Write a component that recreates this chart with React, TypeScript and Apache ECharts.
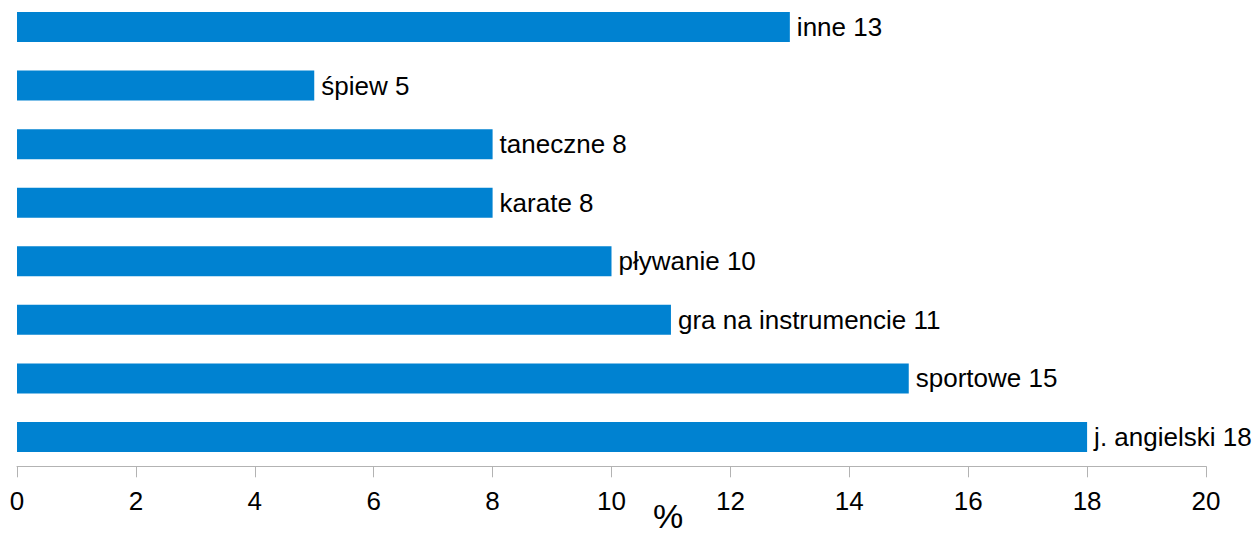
import React, { useEffect, useRef } from "react";
import * as echarts from "echarts";

const categories = [
  "j. angielski",
  "sportowe",
  "gra na instrumencie",
  "pływanie",
  "karate",
  "taneczne",
  "śpiew",
  "inne",
];
const values = [18, 15, 11, 10, 8, 8, 5, 13];
const axisMin = 0;
const axisMax = 20;
const axisInterval = 2;
const axisName = "%";

export default function App() {
  const ref = useRef<HTMLDivElement>(null);
  useEffect(() => {
    if (!ref.current) return;
    const chart = echarts.init(ref.current, undefined, { renderer: "svg" });
    const font = "'Liberation Sans', Arial, sans-serif";
    chart.setOption({
      animation: false,
      backgroundColor: "#ffffff",
      grid: {
        left: 17,
        right: 51,
        top: -2.3,
        bottom: 67.7,
        containLabel: false,
        outerBoundsMode: "none",
      },
      graphic: [
        {
          type: "text",
          left: 653,
          top: 499,
          style: {
            text: axisName,
            fontSize: 34,
            lineHeight: 34,
            fontFamily: font,
            fill: "#000000",
          },
        },
      ],
      xAxis: {
        type: "value",
        min: axisMin,
        max: axisMax,
        interval: axisInterval,
        axisLine: { show: true, lineStyle: { color: "#b3b3b3", width: 1 } },
        axisTick: { show: true, length: 11, lineStyle: { color: "#b3b3b3", width: 1 } },
        axisLabel: { fontSize: 26, color: "#000000", fontFamily: font, margin: 22 },
        splitLine: { show: false },
      },
      yAxis: {
        type: "category",
        data: categories,
        axisLine: { show: false },
        axisTick: { show: false },
        axisLabel: { show: false },
        splitLine: { show: false },
      },
      series: [
        {
          type: "bar",
          data: values,
          barWidth: 30,
          itemStyle: { color: "#0082d1" },
          label: {
            show: true,
            position: "right",
            distance: 7,
            formatter: "{b} {c}",
            fontSize: 26,
            color: "#000000",
            fontFamily: font,
          },
        },
      ],
    });
    return () => chart.dispose();
  }, []);
  return <div ref={ref} style={{ width: 1257, height: 534, position: "absolute", left: 0, top: 0 }} />;
}
